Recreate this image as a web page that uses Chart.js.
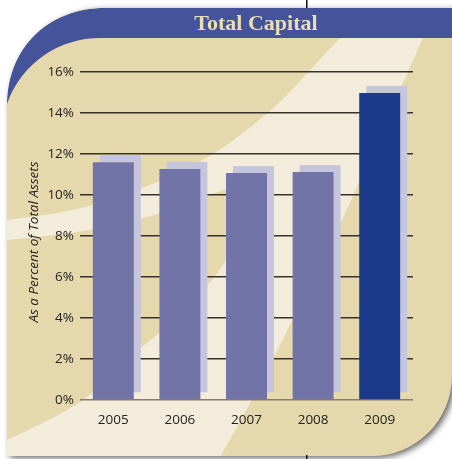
<!DOCTYPE html>
<html>
<head>
<meta charset="utf-8">
<script src="https://cdn.jsdelivr.net/npm/chart.js@4.4.1/dist/chart.umd.min.js"></script>
<style>
  html, body { margin: 0; padding: 0; background: #ffffff; }
  #wrap { width: 452px; height: 459px; }
</style>
</head>
<body>
<div id="wrap"><canvas id="c" width="452" height="459"></canvas></div>
<script>
// ---- data ----
const categories = ['2005', '2006', '2007', '2008', '2009'];
const capitalPct = [11.6, 11.27, 11.07, 11.12, 14.98];
const yTickValues = [0, 2, 4, 6, 8, 10, 12, 14, 16];
const chartTitle = 'Total Capital';
const yAxisTitle = 'As a Percent of Total Assets';
const highlightYear = '2009';

// ---- styles ----
const BEIGE = '#e5d8ac';
const CREAM = '#f4ecdb';
const BANNER = '#45539b';
const BAR = '#7274a8';
const BAR_HI = '#1b3a8a';
const BAR_SHADOW = '#c6c5de';
const TEXT = '#222222';

function smoothPath(ctx, pts, start) {
  if (start) ctx.moveTo(pts[0][0], pts[0][1]); else ctx.lineTo(pts[0][0], pts[0][1]);
  for (let i = 1; i < pts.length - 1; i++) {
    const mx = (pts[i][0] + pts[i + 1][0]) / 2, my = (pts[i][1] + pts[i + 1][1]) / 2;
    ctx.quadraticCurveTo(pts[i][0], pts[i][1], mx, my);
  }
  const l = pts[pts.length - 1];
  ctx.lineTo(l[0], l[1]);
}

function panelPath(ctx) {
  ctx.beginPath();
  ctx.moveTo(7, 456);
  ctx.lineTo(7, 105);
  ctx.bezierCurveTo(7, 48, 48, 8, 105, 8);
  ctx.lineTo(452, 8);
  ctx.lineTo(452, 376);
  ctx.arcTo(452, 456, 372, 456, 80);
  ctx.lineTo(7, 456);
  ctx.closePath();
}

const backgroundPlugin = {
  id: 'bg',
  beforeDraw(chart) {
    const ctx = chart.ctx;
    ctx.save();
    ctx.fillStyle = '#ffffff';
    ctx.fillRect(0, 0, 452, 459);

    // panel with soft shadow
    ctx.save();
    ctx.shadowColor = 'rgba(0,0,0,0.6)';
    ctx.shadowBlur = 6;
    ctx.shadowOffsetX = 3;
    ctx.shadowOffsetY = 2;
    panelPath(ctx);
    ctx.fillStyle = BEIGE;
    ctx.fill();
    ctx.restore();

    ctx.save();
    panelPath(ctx);
    ctx.clip();

    // cream diagonal sweep
    const U = [[340, 38], [310, 70], [283, 100], [250, 128], [213, 155], [170, 177], [130, 193], [75, 211], [7, 220]];
    const R = [[220, 457], [250, 405], [300, 305], [340, 225], [360, 180], [392, 108], [423, 38]];
    ctx.beginPath();
    smoothPath(ctx, U, true);
    ctx.lineTo(0, 220);
    ctx.lineTo(0, 459);
    ctx.lineTo(220, 459);
    smoothPath(ctx, R, false);
    ctx.closePath();
    ctx.fillStyle = CREAM;
    ctx.fill();

    // beige lobe
    const lobeTop = [[0, 241], [7, 240], [75, 233], [130, 222], [165, 212], [217, 192], [262, 178]];
    const lobeBot = [[262, 178], [240, 235], [227, 260], [207, 287], [160, 333], [141, 347], [93, 395], [50, 420], [7, 440], [0, 443]];
    ctx.beginPath();
    smoothPath(ctx, lobeTop, true);
    smoothPath(ctx, lobeBot, false);
    ctx.closePath();
    ctx.fillStyle = BEIGE;
    ctx.fill();

    // blue banner
    ctx.beginPath();
    ctx.moveTo(7, 106);
    ctx.bezierCurveTo(7, 48, 48, 8, 105, 8);
    ctx.lineTo(452, 8);
    ctx.lineTo(452, 38);
    ctx.lineTo(100, 38);
    ctx.bezierCurveTo(60, 38, 22, 62, 7, 104);
    ctx.closePath();
    ctx.fillStyle = BANNER;
    ctx.fill();
    ctx.restore();

    // crop marks
    ctx.fillStyle = '#111111';
    ctx.fillRect(306, 0, 1.5, 8);
    ctx.fillRect(306, 455, 1.5, 4);

    // title
    ctx.fillStyle = '#e9ddb3';
    ctx.font = 'bold 22px "Liberation Serif", serif';
    ctx.textAlign = 'center';
    ctx.textBaseline = 'alphabetic';
    ctx.fillText(chartTitle, 256, 30);

    // y axis title
    ctx.save();
    ctx.translate(34, 242);
    ctx.rotate(-Math.PI / 2);
    ctx.fillStyle = TEXT;
    ctx.font = 'italic 13.5px "Open Sans", sans-serif';
    ctx.textAlign = 'center';
    ctx.textBaseline = 'middle';
    ctx.fillText(yAxisTitle, 0, 0);
    ctx.restore();

    ctx.restore();
  }
};

const barShadowPlugin = {
  id: 'barShadow',
  beforeDatasetsDraw(chart) {
    const ctx = chart.ctx;
    const meta = chart.getDatasetMeta(0);
    ctx.save();
    ctx.fillStyle = BAR_SHADOW;
    meta.data.forEach(el => {
      const p = el.getProps(['x', 'y', 'base', 'width'], true);
      ctx.fillRect(p.x - p.width / 2 + 7, p.y - 7, p.width, p.base - p.y);
    });
    ctx.restore();
  }
};

new Chart(document.getElementById('c'), {
  type: 'bar',
  data: {
    labels: categories,
    datasets: [{
      data: capitalPct,
      backgroundColor: (c) => categories[c.dataIndex] === highlightYear ? BAR_HI : BAR,
      borderWidth: 0,
      barPercentage: 0.615,
      categoryPercentage: 1.0
    }]
  },
  options: {
    responsive: false,
    animation: false,
    devicePixelRatio: 1,
    layout: { padding: { left: 0, top: 72, right: 39, bottom: 0 } },
    plugins: {
      legend: { display: false },
      title: { display: false },
      tooltip: { enabled: false }
    },
    scales: {
      x: {
        grid: { display: false, drawTicks: false },
        border: { display: false },
        ticks: {
          padding: 12,
          color: TEXT,
          font: { family: '"Open Sans", sans-serif', size: 13.5 }
        },
        afterFit: (s) => { s.height = 59; }
      },
      y: {
        min: 0,
        max: 16,
        afterBuildTicks: (s) => { s.ticks = yTickValues.map(v => ({ value: v })); },
        grid: {
          drawTicks: false,
          lineWidth: 1.6,
          color: (c) => (c.tick && c.tick.value === 0) ? '#857d6d' : '#36312a'
        },
        border: { display: false },
        ticks: {
          padding: 6,
          color: TEXT,
          font: { family: '"Open Sans", sans-serif', size: 13.5 },
          callback: (v) => v + '%'
        },
        afterFit: (s) => { s.width = 80; }
      }
    }
  },
  plugins: [backgroundPlugin, barShadowPlugin]
});
</script>
</body>
</html>
